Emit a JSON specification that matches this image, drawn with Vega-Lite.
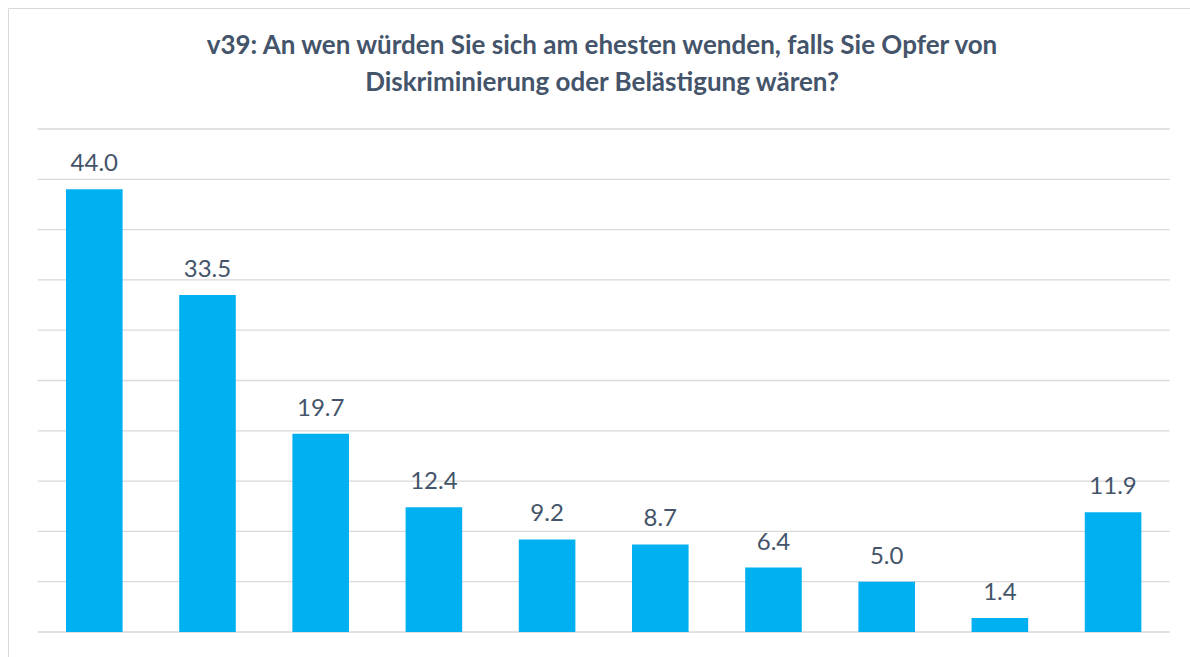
{
  "$schema": "https://vega.github.io/schema/vega-lite/v6.json",
  "autosize": "none",
  "padding": {"left": 8, "top": 8, "right": 0, "bottom": 0},
  "width": 1188,
  "height": 670,
  "background": "#FFFFFF",
  "config": {
    "view": {"stroke": "#D9D9D9", "strokeWidth": 1},
    "font": "Lato"
  },
  "title": {
    "text": ["v39: An wen würden Sie sich am ehesten wenden, falls Sie Opfer von", "Diskriminierung oder Belästigung wären?"],
    "anchor": "middle",
    "frame": "group",
    "orient": "top",
    "offset": -47,
    "dy": 62,
    "baseline": "alphabetic",
    "font": "Lato",
    "fontSize": 26,
    "fontWeight": "bold",
    "color": "#44546A",
    "lineHeight": 37
  },
  "datasets": {
    "antworten": [
      {"kategorie": "Antwort 1", "prozent": 44.0},
      {"kategorie": "Antwort 2", "prozent": 33.5},
      {"kategorie": "Antwort 3", "prozent": 19.7},
      {"kategorie": "Antwort 4", "prozent": 12.4},
      {"kategorie": "Antwort 5", "prozent": 9.2},
      {"kategorie": "Antwort 6", "prozent": 8.7},
      {"kategorie": "Antwort 7", "prozent": 6.4},
      {"kategorie": "Antwort 8", "prozent": 5.0},
      {"kategorie": "Antwort 9", "prozent": 1.4},
      {"kategorie": "Antwort 10", "prozent": 11.9}
    ],
    "gitter": [
      {"wert": 0}, {"wert": 5}, {"wert": 10}, {"wert": 15}, {"wert": 20}, {"wert": 25},
      {"wert": 30}, {"wert": 35}, {"wert": 40}, {"wert": 45}, {"wert": 50}
    ]
  },
  "encoding": {
    "x": {
      "field": "kategorie",
      "type": "nominal",
      "axis": null,
      "scale": {
        "domain": ["Antwort 1", "Antwort 2", "Antwort 3", "Antwort 4", "Antwort 5", "Antwort 6", "Antwort 7", "Antwort 8", "Antwort 9", "Antwort 10"],
        "paddingInner": 0.5,
        "paddingOuter": 0.4975,
        "align": 0.515
      }
    },
    "y": {
      "field": "prozent",
      "type": "quantitative",
      "axis": null,
      "scale": {"domain": [-4.573, 62.028], "zero": false, "nice": false}
    }
  },
  "layer": [
    {
      "data": {"name": "gitter"},
      "mark": {"type": "rule", "color": "#D9D9D9", "strokeWidth": 1.3},
      "encoding": {
        "x": {"datum": "Antwort 1", "type": "nominal", "bandPosition": -0.5},
        "x2": {"datum": "Antwort 10", "bandPosition": 1.5},
        "y": {"field": "wert", "type": "quantitative"}
      }
    },
    {
      "data": {"name": "antworten"},
      "mark": {"type": "bar", "color": "#00B0F0"},
      "encoding": {
        "y2": {"datum": 0}
      }
    },
    {
      "data": {"name": "antworten"},
      "mark": {"type": "text", "baseline": "alphabetic", "dy": -18, "fontSize": 24, "font": "Lato", "color": "#44546A"},
      "encoding": {
        "text": {"field": "prozent", "type": "quantitative", "format": ".1f"}
      }
    }
  ]
}
